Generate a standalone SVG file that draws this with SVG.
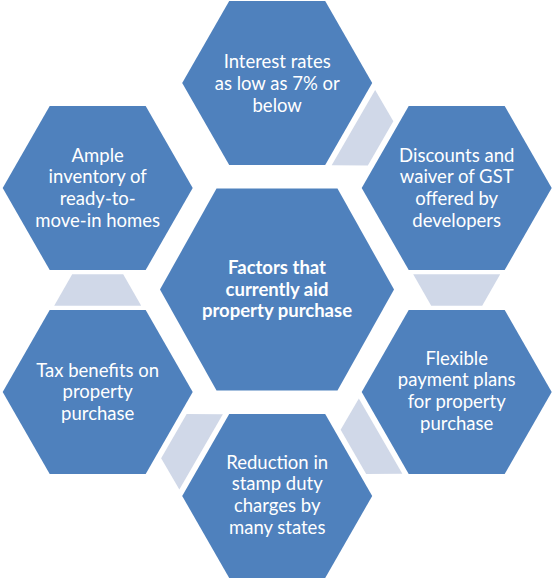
<svg xmlns="http://www.w3.org/2000/svg" xmlns:xlink="http://www.w3.org/1999/xlink" width="556" height="583" viewBox="0 0 556 583">
  <defs>
    <polygon id="hex" points="-95,0 -48,-82 48,-82 95,0 48,82 -48,82"/>
    <polygon id="trap" points="-43.5,15.7 43.5,15.7 25.5,-15.7 -25.5,-15.7"/>
  </defs>
  <style>
    .hex { fill: #4F81BD; }
    .trap { fill: #D0D8E8; }
    text { font-family: Lato, "Open Sans", "Liberation Sans", sans-serif; font-size: 18.5px; fill: #FFFFFF; text-anchor: middle; }
    .bold { font-weight: bold; }
  </style>
  <rect x="0" y="0" width="556" height="583" fill="#FFFFFF"/>

  <g id="connectors">
    <use xlink:href="#trap" class="trap" transform="translate(367,135.5) rotate(120)"/>
    <use xlink:href="#trap" class="trap" transform="translate(456.7,290) rotate(180)"/>
    <use xlink:href="#trap" class="trap" transform="translate(367,444) rotate(240)"/>
    <use xlink:href="#trap" class="trap" transform="translate(187.5,444) rotate(300)"/>
    <use xlink:href="#trap" class="trap" transform="translate(97.7,290)"/>
  </g>

  <g id="center">
    <polygon class="hex" points="160,289.5 216.5,188.5 337.5,188.5 394,289.5 337.5,390.5 216.5,390.5"/>
    <text class="bold" x="277" y="274">Factors that</text>
    <text class="bold" x="277" y="295.5">currently aid</text>
    <text class="bold" x="277" y="317">property purchase</text>
  </g>

  <g id="top">
    <use xlink:href="#hex" class="hex" x="277.2" y="83"/>
    <text x="277.2" y="68.3">Interest rates</text>
    <text x="277.2" y="90">as low as 7% or</text>
    <text x="277.2" y="111.7">below</text>
  </g>

  <g id="upper-right">
    <use xlink:href="#hex" class="hex" x="456.7" y="188"/>
    <text x="456.7" y="161.5">Discounts and</text>
    <text x="456.7" y="183.2">waiver of GST</text>
    <text x="456.7" y="204.9">offered by</text>
    <text x="456.7" y="226.6">developers</text>
  </g>

  <g id="lower-right">
    <use xlink:href="#hex" class="hex" x="456.7" y="392"/>
    <text x="456.7" y="364.5">Flexible</text>
    <text x="456.7" y="386.2">payment plans</text>
    <text x="456.7" y="407.9">for property</text>
    <text x="456.7" y="429.6">purchase</text>
  </g>

  <g id="bottom">
    <use xlink:href="#hex" class="hex" x="277.2" y="496"/>
    <text x="277.2" y="468.5">Reduction in</text>
    <text x="277.2" y="490.2">stamp duty</text>
    <text x="277.2" y="511.9">charges by</text>
    <text x="277.2" y="533.6">many states</text>
  </g>

  <g id="lower-left">
    <use xlink:href="#hex" class="hex" x="97.7" y="392"/>
    <text x="97.7" y="376.5">Tax benefits on</text>
    <text x="97.7" y="398.2">property</text>
    <text x="97.7" y="419.9">purchase</text>
  </g>

  <g id="upper-left">
    <use xlink:href="#hex" class="hex" x="97.7" y="188"/>
    <text x="97.7" y="161.5">Ample</text>
    <text x="97.7" y="183.2">inventory of</text>
    <text x="97.7" y="204.9">ready-to-</text>
    <text x="97.7" y="226.6">move-in homes</text>
  </g>
</svg>
